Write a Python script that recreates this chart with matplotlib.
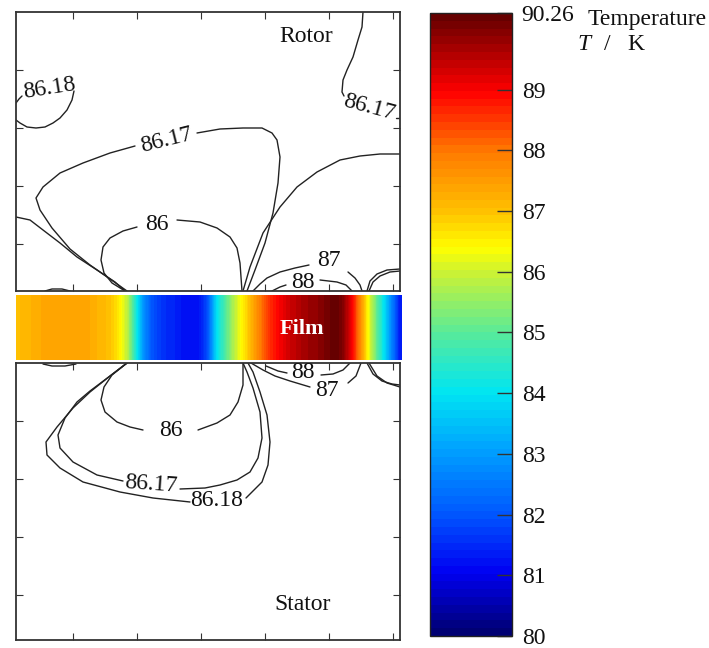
import matplotlib
matplotlib.use("Agg")
import matplotlib.pyplot as plt
import numpy as np
from matplotlib.colors import LinearSegmentedColormap, Normalize
from matplotlib.cm import ScalarMappable

plt.rcParams['font.family'] = ['Liberation Serif', 'DejaVu Serif']

# temperature scale
t_min, t_max = 80.0, 90.26
cbar_ticks = [80, 81, 82, 83, 84, 85, 86, 87, 88, 89, 90.26]
cbar_labels = ['80', '81', '82', '83', '84', '85', '86', '87', '88', '89', '90.26']

# colour anchors (temperature, rgb)
cmap_temps = [80.0, 81.0, 82.0, 83.0, 84.0, 85.0, 86.0, 86.4, 87.0, 88.0, 89.0, 90.26]
cmap_colors = [(0.0, 0.0, 0.45), (0.0, 0.0, 0.95), (0.0, 0.35, 1.0), (0.0, 0.62, 1.0),
               (0.0, 0.9, 0.95), (0.35, 0.92, 0.6), (0.8, 0.95, 0.2), (1.0, 1.0, 0.0),
               (1.0, 0.76, 0.0), (1.0, 0.48, 0.0), (1.0, 0.0, 0.0), (0.4, 0.0, 0.0)]

# film temperature, sampled every 8 units from x=16 to x=400
film_x0, film_dx = 16, 8
film_temp = [87.0, 87.1, 87.2, 87.3, 87.4, 87.4, 87.4, 87.4, 87.4, 87.35, 87.2, 87.1,
             86.9, 86.5, 85.8, 84.3, 82.8, 82.0, 81.7, 81.5, 81.4, 81.2, 81.2, 81.3,
             82.0, 83.8, 84.8, 85.6, 86.3, 86.9, 87.6, 88.2, 88.7, 89.0, 89.3, 89.5,
             89.7, 89.8, 89.9, 90.1, 90.26, 89.9, 89.0, 87.8, 86.4, 85.2, 84.0, 82.6, 81.3]

# isotherms in the rotor (segments split where labels sit)
rotor_8618_loop = [[(16, 103), (19, 99), (22, 96)],
                   [(74, 91), (72, 100), (67, 110), (60, 118), (53, 123), (45, 127), (36, 128),
                    (27, 127), (20, 123), (16, 120)]]
rotor_8618_edge = [[(16, 217), (30, 220), (43, 230), (60, 243), (77, 257), (97, 270), (115, 282),
                    (125, 291)]]
rotor_8617_loop = [[(127, 291), (110, 279), (90, 265), (70, 249), (52, 228), (40, 210), (36, 198),
                    (43, 187), (60, 173), (83, 163), (110, 153), (135, 146)],
                   [(197, 133), (220, 129), (243, 128), (262, 128), (272, 133), (277, 140),
                    (280, 157), (278, 183), (273, 213), (265, 243), (255, 270), (247, 291)]]
rotor_8617_right = [[(363, 12), (362, 27), (358, 40), (353, 57), (347, 70), (343, 80), (342, 92),
                     (344, 96)],
                    [(396, 118), (399, 118)]]
rotor_8617_arc = [[(243, 291), (250, 267), (263, 233), (280, 207), (297, 187), (317, 172),
                   (340, 160), (360, 156), (380, 154), (400, 154)]]
rotor_86 = [[(125, 291), (112, 283), (104, 273), (101, 260), (103, 247), (110, 238), (123, 231),
             (137, 227)],
            [(177, 220), (200, 222), (217, 228), (230, 237), (237, 248), (240, 263), (242, 291)]]
rotor_87 = [[(253, 291), (260, 284), (267, 278), (280, 272), (295, 268), (309, 265)],
            [(348, 272), (355, 278), (360, 285), (362, 291)]]
rotor_88 = [[(272, 291), (280, 287), (286, 285)],
            [(320, 280), (337, 282), (346, 285), (352, 291)]]
rotor_right = [[(367, 291), (370, 281), (377, 274), (387, 270), (400, 269)],
               [(369, 291), (373, 282), (380, 276), (390, 272), (400, 271)]]
rotor_blob = [[(45, 291), (52, 289), (62, 289), (70, 291)]]

# isotherms in the stator
stator_86 = [[(127, 363), (112, 375), (104, 387), (101, 400), (105, 412), (117, 422), (130, 427),
              (143, 430)],
             [(198, 430), (217, 423), (230, 415), (238, 402), (243, 385), (243, 363)]]
stator_8617 = [[(127, 363), (110, 376), (90, 391), (77, 402), (65, 418), (58, 435), (60, 448),
                (73, 462), (97, 475), (123, 481)],
               [(180, 489), (205, 488), (220, 485), (237, 480), (250, 472), (258, 458),
                (262, 438), (260, 412), (253, 388), (247, 372), (243, 363)]]
stator_8618 = [[(127, 363), (110, 376), (90, 392), (73, 408), (57, 427), (46, 442), (47, 455),
                (60, 468), (83, 482), (120, 492), (153, 498), (190, 502)],
               [(246, 498), (253, 491), (262, 482), (268, 465), (270, 442), (267, 415),
                (260, 392), (253, 372), (248, 363)]]
stator_87 = [[(251, 363), (263, 370), (275, 376), (290, 381), (300, 384), (310, 387)],
             [(348, 383), (356, 376), (361, 363)]]
stator_88 = [[(266, 366), (278, 371), (287, 373)],
             [(321, 375), (333, 374), (343, 370), (350, 363)]]
stator_right = [[(367, 363), (373, 374), (382, 381), (392, 384), (400, 385)],
                [(369, 363), (377, 376), (387, 383), (400, 387)]]
stator_blob = [[(43, 364), (52, 366), (65, 366), (76, 364)]]

rotor_lines = [rotor_8618_loop, rotor_8618_edge, rotor_8617_loop, rotor_8617_right,
               rotor_8617_arc, rotor_86, rotor_87, rotor_88, rotor_right, rotor_blob]
stator_lines = [stator_86, stator_8617, stator_8618, stator_87, stator_88, stator_right,
                stator_blob]

# contour labels: (text, x, y, rotation)
rotor_labels = [('86.18', 49, 88, 9), ('86.17', 166, 140, 14), ('86', 157, 224, 0),
                ('86.17', 369, 108, -15), ('87', 329, 261, 0), ('88', 303, 283, 0)]
stator_labels = [('86', 171, 431, 0), ('86.17', 151, 484, -4), ('86.18', 217, 501, 0),
                 ('88', 303, 373, 0), ('87', 327, 391, 0)]

W, H = 709, 648
fig = plt.figure(figsize=(W / 100, H / 100), dpi=100)


def fig_rect(x0, y0, x1, y1):
    return [x0 / W, 1 - y1 / H, (x1 - x0) / W, (y1 - y0) / H]


cmap_base = LinearSegmentedColormap.from_list(
    'temp', [((t - t_min) / (t_max - t_min), c) for t, c in zip(cmap_temps, cmap_colors)])
cmap = cmap_base.resampled(80)
norm = Normalize(vmin=t_min, vmax=t_max)

edge = '#333333'
ink = '#111111'
fs = 17


def setup_box(ax, y0, y1, yticks):
    ax.set_xlim(16, 400)
    ax.set_ylim(y1, y0)
    ax.set_xticks([73, 137, 201, 265, 329, 393])
    ax.set_yticks(yticks)
    ax.tick_params(direction='in', length=5, width=0.8, color=edge, top=True, right=True,
                   labelbottom=False, labelleft=False)
    for s in ax.spines.values():
        s.set_color(edge)
        s.set_linewidth(1.3)


def draw_lines(ax, lines, labels):
    for line in lines:
        for seg in line:
            xs = [p[0] for p in seg]
            ys = [p[1] for p in seg]
            ax.plot(xs, ys, color='#222222', lw=1.0, solid_capstyle='round')
    for txt, x, y, rot in labels:
        ax.text(x, y, txt, fontsize=fs, ha='center', va='center', rotation=rot, color=ink)


ax_r = fig.add_axes(fig_rect(16, 12, 400, 291))
setup_box(ax_r, 12, 291, [70, 128, 186, 244])
draw_lines(ax_r, rotor_lines, rotor_labels)
ax_r.text(306, 36, 'Rotor', fontsize=fs, ha='center', va='center', color=ink)

ax_s = fig.add_axes(fig_rect(16, 363, 400, 640))
setup_box(ax_s, 363, 640, [421, 479, 537, 595])
draw_lines(ax_s, stator_lines, stator_labels)
ax_s.text(303, 604, 'Stator', fontsize=fs, ha='center', va='center', color=ink)

ax_f = fig.add_axes(fig_rect(16, 295, 402, 360))
film = np.array(film_temp)[np.newaxis, :]
x_first = film_x0 - film_dx / 2
x_last = film_x0 + film_dx * (len(film_temp) - 1) + film_dx / 2
ax_f.imshow(film, cmap=cmap, norm=norm, aspect='auto', interpolation='bilinear',
            interpolation_stage='data', extent=(x_first, x_last, 0, 1))
ax_f.set_xlim(16, 402)
ax_f.set_ylim(0, 1)
ax_f.axis('off')
ax_f.text(302, 0.48, 'Film', color='white', fontsize=16, fontweight='bold',
          ha='center', va='center')

ax_c = fig.add_axes(fig_rect(430, 13, 512, 636))
sm = ScalarMappable(norm=norm, cmap=cmap)
cb = fig.colorbar(sm, cax=ax_c, ticks=cbar_ticks)
cb.ax.set_yticklabels(cbar_labels)
cb.ax.tick_params(direction='in', length=11, width=1.0, color='#333333', labelsize=fs,
                  pad=7, labelcolor=ink)
cb.outline.set_edgecolor('#222222')
cb.outline.set_linewidth(1.0)

fig.text(588 / W, 1 - 20 / H, 'Temperature', fontsize=fs, ha='left', va='center', color=ink)
fig.text(577 / W, 1 - 45 / H, 'T', fontsize=fs, fontstyle='italic', ha='left', va='center',
         color=ink)
fig.text(604 / W, 1 - 45 / H, '/', fontsize=fs, ha='left', va='center', color=ink)
fig.text(627 / W, 1 - 45 / H, 'K', fontsize=fs, ha='left', va='center', color=ink)

fig.savefig('out.png', dpi=100)
